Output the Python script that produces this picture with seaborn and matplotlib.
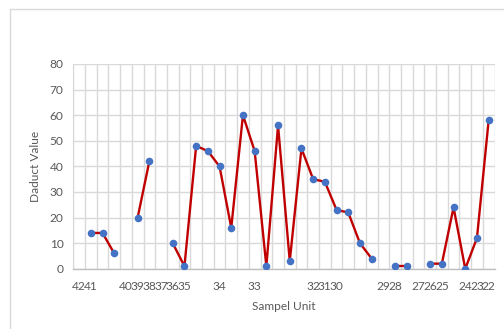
import numpy as np
import pandas as pd
import matplotlib
matplotlib.use("Agg")
import matplotlib.pyplot as plt
import seaborn as sns
from matplotlib.ticker import MultipleLocator, FixedLocator
from matplotlib.lines import Line2D

unit_labels = ["42", "41", "", "", "40", "39", "38", "37", "36", "35", "", "",
               "34", "", "", "33", "", "", "", "", "32", "31", "30", "", "",
               "", "29", "28", "", "27", "26", "25", "", "24", "23", "22"]
deduct_values = [np.nan, 14, 14, 6, np.nan, 20, 42, np.nan, 10, 1, 48, 46,
                 40, 16, 60, 46, 1, 56, 3, 47, 35, 34, 23, 22,
                 10, 4, np.nan, 1, 1, np.nan, 2, 2, 24, 0, 12, 58]

df = pd.DataFrame({"pos": np.arange(len(deduct_values)), "val": deduct_values})
df["seg"] = df["val"].isna().cumsum()
df_valid = df.dropna()

sns.set_style("white")
plt.rcParams["font.family"] = ["Lato", "DejaVu Sans"]

fig = plt.figure(figsize=(5.04, 3.29), dpi=100)
W, H = 504, 329
left, right, top, bottom = 73.3, 494.5, 64.0, 268.8
ax = fig.add_axes([left / W, 1 - bottom / H, (right - left) / W, (bottom - top) / H])

# chart-area border (Excel style)
fig.add_artist(Line2D([10 / W, 1.0], [1 - 9 / H, 1 - 9 / H], transform=fig.transFigure,
                      color="#d9d9d9", lw=1.0))
fig.add_artist(Line2D([10 / W, 10 / W], [1 - 9 / H, 0.0], transform=fig.transFigure,
                      color="#d9d9d9", lw=1.0))

sns.lineplot(data=df_valid, x="pos", y="val", units="seg", estimator=None,
             color="#C00000", lw=1.7, ax=ax, legend=False, zorder=3)
sns.scatterplot(data=df_valid, x="pos", y="val", color="#4472C4", s=30,
                edgecolor="#4472C4", linewidth=0, ax=ax, legend=False, zorder=4)

n = len(deduct_values)
ax.set_xlim(-0.5, n - 0.5)
ax.set_ylim(0, 80)
ax.yaxis.set_major_locator(MultipleLocator(10))
ax.xaxis.set_major_locator(FixedLocator(np.arange(n)))
ax.set_xticklabels(unit_labels)
ax.xaxis.set_minor_locator(FixedLocator(np.arange(n + 1) - 0.5))

ax.grid(axis="y", which="major", color="#d9d9d9", lw=1.0)
ax.grid(axis="x", which="minor", color="#d9d9d9", lw=1.0)
ax.grid(axis="x", which="major", visible=False)
ax.set_axisbelow(True)

for s in ["top", "right"]:
    ax.spines[s].set_visible(False)
ax.spines["left"].set_color("#d9d9d9")
ax.spines["bottom"].set_color("#bfbfbf")
ax.spines["bottom"].set_linewidth(1.0)

ax.tick_params(axis="both", which="both", length=0, labelsize=8.6, labelcolor="#595959")
ax.tick_params(axis="y", pad=7)
ax.tick_params(axis="x", pad=9)

ax.set_xlabel("Sampel Unit", fontsize=8.6, color="#595959", labelpad=6)
ax.set_ylabel("Daduct Value", fontsize=8.6, color="#595959", labelpad=6)

fig.savefig("out.png", dpi=100, facecolor="white")
